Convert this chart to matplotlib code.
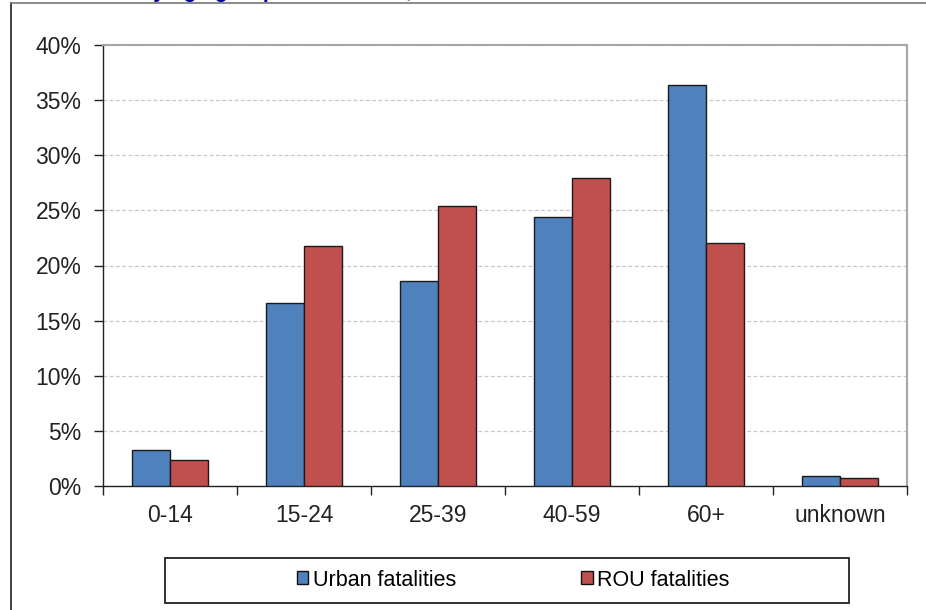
import numpy as np
import matplotlib
matplotlib.use("Agg")
from matplotlib import pyplot as plt
from matplotlib.patches import Rectangle
from matplotlib.lines import Line2D

plt.rcParams['font.family'] = ['Liberation Sans', 'DejaVu Sans']

# data (share of fatalities, %)
age_groups = ['0-14', '15-24', '25-39', '40-59', '60+', 'unknown']
urban = [3.3, 16.6, 18.6, 24.4, 36.4, 0.9]
rou = [2.4, 21.8, 25.4, 27.9, 22.0, 0.7]
y_ticks = [0, 5, 10, 15, 20, 25, 30, 35, 40]

blue = '#4F81BD'
red = '#C0504D'

fig = plt.figure(figsize=(9.26, 6.10), dpi=100)
ax = fig.add_axes([103/926, 1 - 486/610, (907 - 103)/926, (486 - 45)/610])

x = np.arange(len(age_groups))
w = 0.285
ax.bar(x - w/2, urban, w, color=blue, edgecolor='#1a1a1a', linewidth=1.0,
       label='Urban fatalities', zorder=3)
ax.bar(x + w/2, rou, w, color=red, edgecolor='#1a1a1a', linewidth=1.0,
       label='ROU fatalities', zorder=3)

ax.set_xlim(-0.5, len(age_groups) - 0.5)
ax.set_ylim(0, 40)
ax.set_yticks(y_ticks)
ax.set_yticklabels([f'{v}%' for v in y_ticks])
ax.set_xticks(x)
ax.set_xticklabels(age_groups)
ax.set_xticks(np.arange(len(age_groups) + 1) - 0.5, minor=True)

ax.tick_params(axis='y', direction='out', length=6.5, width=1, pad=9,
               labelsize=16.5, colors='#222222')
ax.tick_params(axis='x', which='major', length=0, pad=13, labelsize=16.5,
               colors='#222222')
ax.tick_params(axis='x', which='minor', direction='out', length=6.5, width=1,
               color='#222222')

ax.yaxis.grid(True, color='#c8c8c8', linestyle=(0, (3, 2)), linewidth=0.9,
              zorder=0)
ax.set_axisbelow(True)

for side in ['left', 'bottom']:
    ax.spines[side].set_color('#222222')
    ax.spines[side].set_linewidth(1.0)
for side in ['top', 'right']:
    ax.spines[side].set_color('#a6a6a6')
    ax.spines[side].set_linewidth(1.5)

# outer frame of the (cropped) chart
fig.add_artist(Line2D([11/926, 11/926], [0, 1 - 3/610], color='#222222',
                      linewidth=1.2))
fig.add_artist(Line2D([11/926, 1], [1 - 3/610, 1 - 3/610], color='#777777',
                      linewidth=1.2))

# clipped title at the top
fig.text(40/926, 1 + 2.5/610, 'Fatalities by age group in EU towns,',
         color='#000099', fontsize=15.6, fontweight='bold', ha='left',
         va='baseline')

# legend box
fig.add_artist(Rectangle((165/926, 1 - 603/610), (849 - 165)/926, 45/610,
                         transform=fig.transFigure, fill=False,
                         edgecolor='#222222', linewidth=1.3))
fig.legend(loc='center', bbox_to_anchor=(513/926, 1 - 580/610), ncol=2,
           frameon=False, fontsize=15.5, handlelength=0.55, handleheight=0.55,
           handletextpad=0.2, columnspacing=5.8)
for h in fig.legends[0].legend_handles:
    h.set_edgecolor('#111111')

fig.savefig('out.png', dpi=100)
